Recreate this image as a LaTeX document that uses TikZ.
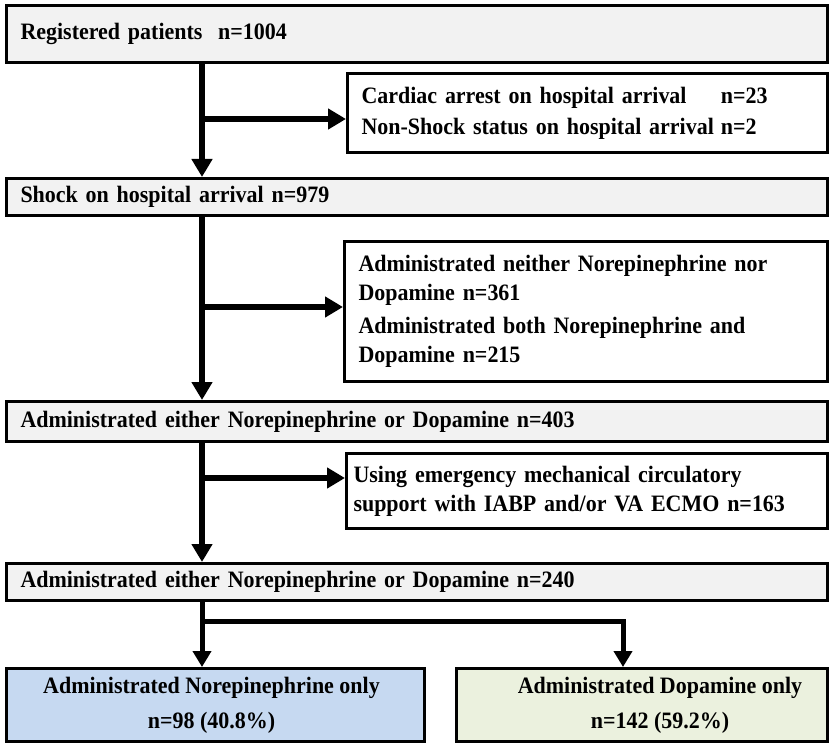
\documentclass[tikz,border=0pt]{standalone}
\usepackage{fontspec}
\setmainfont{Liberation Serif}[FakeStretch=0.935]
\usetikzlibrary{arrows.meta}
\definecolor{boxgray}{HTML}{F2F2F2}
\definecolor{boxblue}{HTML}{C6D9F1}
\definecolor{boxgreen}{HTML}{EBF1DE}
\begin{document}
\begin{tikzpicture}[x=1pt,y=-1pt,
  box/.style={draw, line width=3pt, anchor=north west, inner sep=0pt},
  main/.style={box, fill=boxgray, minimum width=821pt, text width=793pt, align=left,
    font=\fontsize{23.5}{28}\selectfont\bfseries},
  side/.style={box, fill=white, align=left},
  arr/.style={line width=6pt, -{Triangle[length=18pt,width=20pt]}},
  split/.style={line width=5pt, line join=miter, -{Triangle[length=16pt,width=18pt]}},
  lbl/.style={inner sep=0pt, align=center, font=\fontsize{23.5}{35}\selectfont\bfseries}
]
\path[use as bounding box, fill=white] (0,0) rectangle (829,743);

% main boxes
\node[main, minimum height=57pt] (b1) at (5,4) {Registered patients\ \ n=1004};
\node[main, minimum height=37pt] (b3) at (5,177) {Shock on hospital arrival n=979};
\node[main, minimum height=40pt] (b5) at (5,400) {Administrated either Norepinephrine or Dopamine n=403};
\node[main, minimum height=37pt] (b7) at (5,562) {Administrated either Norepinephrine or Dopamine n=240};

% exclusion boxes
\node[side, minimum width=480pt, minimum height=79pt, text width=452pt,
  font=\fontsize{23.5}{31}\selectfont\bfseries] (b2) at (346,72)
  {\begin{tabular}{@{}l@{\hspace{7pt}}l@{}}Cardiac arrest on hospital arrival & n=23\\
   Non-Shock status on hospital arrival & n=2\end{tabular}};
\node[side, minimum width=483pt, minimum height=140pt, text width=455pt,
  font=\fontsize{23.5}{29}\selectfont\bfseries] (b4) at (343,240)
  {Administrated neither Norepinephrine nor\\Dopamine n=361\\[4pt]
   Administrated both Norepinephrine and\\Dopamine n=215};
\node[side, minimum width=481pt, minimum height=75pt, text width=467pt,
  font=\fontsize{23.5}{29}\selectfont\bfseries] (b6) at (345,452)
  {Using emergency mechanical circulatory\\support with IABP and/or VA ECMO n=163};

% final boxes
\node[box, fill=boxblue, minimum width=418pt, minimum height=73pt] (b8) at (5,667) {};
\node[lbl] (t8) at ([xshift=-4pt]b8.center) {Administrated Norepinephrine only\\n=98 (40.8\%)};
\node[box, fill=boxgreen, minimum width=371pt, minimum height=73pt] (b9) at (455,667) {};
\node[lbl] (t9) at ([xshift=18pt]b9.center) {Administrated Dopamine only\\n=142 (59.2\%)};

% connectors
\coordinate (tx) at (202,0);
\coordinate (br1) at (202,119);
\coordinate (br2) at (202,307);
\coordinate (br3) at (202,478);
\coordinate (sp) at (202,621);
\coordinate (sx) at (623,0);

\draw[arr] (b1.south -| tx) -- (b3.north -| tx);
\draw[arr] (br1) -- (br1 -| b2.west);
\draw[arr] (b3.south -| tx) -- (b5.north -| tx);
\draw[arr] (br2) -- (br2 -| b4.west);
\draw[arr] (b5.south -| tx) -- (b7.north -| tx);
\draw[arr] (br3) -- (br3 -| b6.west);
\draw[split] (b7.south -| tx) -- (b8.north -| tx);
\draw[split] (sp) -- (sp -| sx) -- (b9.north -| sx);
\end{tikzpicture}
\end{document}
